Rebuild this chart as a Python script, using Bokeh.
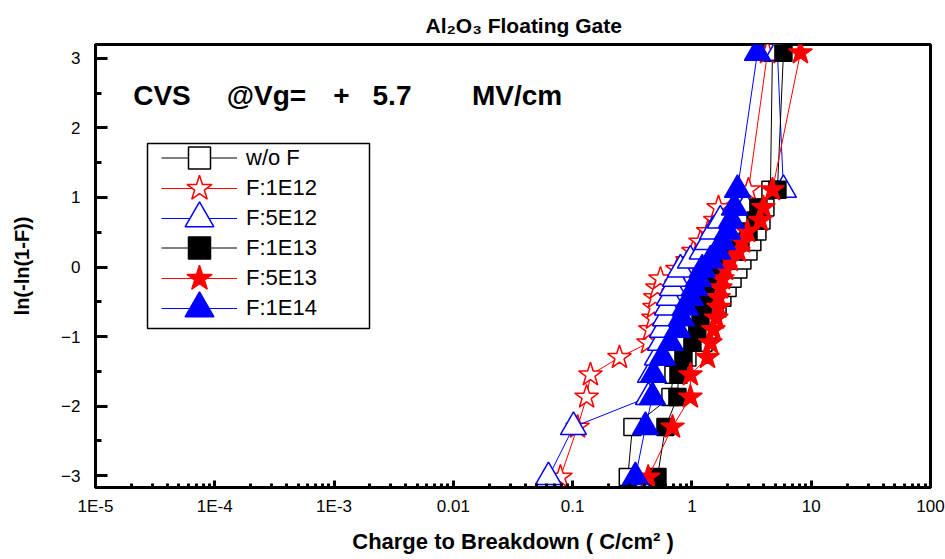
from bokeh.plotting import figure
from bokeh.models import (FixedTicker, CustomJSTickFormatter, Legend, LegendItem,
                          Label, BoxAnnotation, ColumnDataSource)
from bokeh.embed import file_html
from bokeh.resources import INLINE

FONT = "Liberation Sans"

# Weibull levels ln(-ln(1-F)) shared by all samples
weibull_y = [-3.02, -2.30, -1.87, -1.55, -1.30, -1.09, -0.90, -0.735, -0.58, -0.44,
             -0.30, -0.17, -0.035, 0.094, 0.225, 0.36, 0.51, 0.67, 0.855, 1.11, 3.08]

# Charge to breakdown (C/cm^2) per sample
qbd_wo_f = [0.29, 0.317, 0.660, 0.700, 0.917, 1.25, 1.35, 1.49, 1.64, 1.80, 1.99,
            2.19, 2.45, 2.65, 2.98, 3.21, 3.54, 3.83, 4.13, 4.55, 4.73]
qbd_f_1e12 = [0.079, 0.110, 0.131, 0.141, 0.247, 0.432, 0.449, 0.476, 0.485, 0.494, 0.514,
              0.545, 0.756, 0.917, 1.03, 1.18, 1.37, 1.57, 1.67, 2.98, 4.30]
qbd_f_5e12 = [0.0627, 0.1016, 0.432, 0.449, 0.514, 0.545, 0.566, 0.600, 0.623, 0.648, 0.687,
              0.727, 0.801, 0.971, 1.22, 1.35, 1.49, 1.73, 2.81, 5.85, 5.21]
qbd_f_1e13 = [0.514, 0.600, 0.756, 0.771, 0.849, 1.01, 1.11, 1.18, 1.25, 1.32, 1.43,
              1.57, 1.73, 1.95, 2.23, 2.55, 2.98, 3.41, 3.61, 5.21, 5.85]
qbd_f_5e13 = [0.43, 0.687, 0.971, 0.971, 1.35, 1.43, 1.51, 1.60, 1.67, 1.67, 1.73,
              1.80, 1.91, 2.10, 2.45, 2.65, 2.92, 3.75, 3.97, 4.73, 8.12]
qbd_f_1e14 = [0.336, 0.408, 0.467, 0.476, 0.566, 0.660, 0.756, 0.817, 0.882, 0.971, 1.05,
              1.13, 1.22, 1.43, 1.64, 1.80, 1.99, 2.14, 2.27, 2.41, 3.54]

series_names = ["w/o F", "F:1E12", "F:5E12", "F:1E13", "F:5E13", "F:1E14"]
series_values = [qbd_wo_f, qbd_f_1e12, qbd_f_5e12, qbd_f_1e13, qbd_f_5e13, qbd_f_1e14]
series_colors = ["black", "#FF0000", "#0000FF", "black", "#FF0000", "#0000FF"]
series_markers = ["square", "star", "triangle", "square", "star", "triangle"]
series_filled = [False, False, False, True, True, True]
marker_sizes = {"square": 17, "star": 25, "triangle": 26}
legend_glyph_heights = {"square": 55, "star": 66, "triangle": 72}

x_ticks = [1e-5, 1e-4, 1e-3, 1e-2, 1e-1, 1, 10, 100]
x_tick_labels = ["1E-5", "1E-4", "1E-3", "0.01", "0.1", "1", "10", "100"]
x_minor = [k * d for d in x_ticks[:-1] for k in range(2, 10)]
y_ticks = [-3, -2, -1, 0, 1, 2, 3]
y_minor = [-2.5, -1.5, -0.5, 0.5, 1.5, 2.5]

p = figure(width=945, height=559, x_axis_type="log", x_range=(1e-5, 100),
           y_range=(-3.17, 3.2), output_backend="svg", toolbar_location=None,
           min_border_left=95, min_border_right=15, min_border_top=44, min_border_bottom=72)

p.background_fill_color = "white"
p.border_fill_color = "white"
p.grid.visible = False
p.outline_line_color = "black"
p.outline_line_width = 3

# title
p.title.text = "Al\u2082O\u2083   Floating Gate"
p.title.align = "left"
p.title.offset = 330
p.title.text_font = FONT
p.title.text_font_size = "21px"
p.title.text_font_style = "bold"
p.title.text_color = "black"
p.title.standoff = 16

# axes
p.xaxis.ticker = FixedTicker(ticks=x_ticks, minor_ticks=x_minor)
p.xaxis.formatter = CustomJSTickFormatter(args=dict(tvals=x_ticks, tlabels=x_tick_labels), code="""
for (let i = 0; i < tvals.length; i++) {
  if (Math.abs(Math.log10(tick) - Math.log10(tvals[i])) < 1e-6) { return tlabels[i]; }
}
return "";
""")
p.yaxis.ticker = FixedTicker(ticks=y_ticks, minor_ticks=y_minor)

for ax in (p.xaxis, p.yaxis):
    ax.axis_line_width = 3
    ax.major_tick_line_width = 3
    ax.minor_tick_line_width = 3
    ax.major_tick_out = 0
    ax.minor_tick_out = 0
    ax.major_label_text_font = FONT
    ax.axis_label_text_font = FONT
    ax.axis_label_text_font_style = "bold"
    ax.major_label_text_color = "black"
    ax.axis_label_text_color = "black"

p.xaxis.major_tick_in = 7
p.xaxis.minor_tick_in = 4
p.yaxis.major_tick_in = 12
p.yaxis.minor_tick_in = 6
p.xaxis.major_label_text_font_size = "17px"
p.yaxis.major_label_text_font_size = "17px"
p.xaxis.major_label_standoff = 9
p.yaxis.major_label_standoff = 15

p.xaxis.axis_label = "Charge to Breakdown ( C/cm\u00b2 )"
p.xaxis.axis_label_text_font_size = "22px"
p.xaxis.axis_label_standoff = 10
p.yaxis.axis_label = "ln(-ln(1-F))"
p.yaxis.axis_label_text_font_size = "20px"
p.yaxis.axis_label_standoff = 25

# data
items = []
for name, xs, color, marker, filled in zip(series_names, series_values, series_colors,
                                           series_markers, series_filled):
    src = ColumnDataSource(dict(x=xs, y=weibull_y))
    ln = p.line("x", "y", source=src, line_color=color, line_width=1)
    sc = p.scatter("x", "y", source=src, marker=marker, size=marker_sizes[marker],
                   line_color=color, fill_color=color if filled else "white", line_width=1.5)
    items.append((LegendItem(label=name, renderers=[ln, sc]), marker))

# legend: one row per Legend so the row pitch (30 px) and marker size can be set freely
frame_bottom_px = 487
first_row_center_px = 158
row_pitch = 30
for i, (item, marker) in enumerate(items):
    gh = legend_glyph_heights[marker]
    vy = frame_bottom_px - (first_row_center_px + row_pitch * i) - gh / 2
    lg = Legend(items=[item], location=(66, int(round(vy))), glyph_width=76, glyph_height=gh,
                label_height=gh, spacing=0, padding=0, margin=0, label_standoff=9,
                label_text_font=FONT, label_text_font_size="22px", label_text_color="black",
                border_line_alpha=0, background_fill_alpha=0)
    p.add_layout(lg, "center")

p.add_layout(BoxAnnotation(left=52, right=274, bottom=159, top=344,
                           left_units="screen", right_units="screen",
                           bottom_units="screen", top_units="screen",
                           fill_alpha=0, line_color="black", line_width=1.5, line_alpha=1))

# condition text (word centres placed as in the original's spaced lettering)
for txt, cx in [("CVS", 161.5), ("@Vg=", 266), ("+", 341), ("5.7", 391.5), ("MV/cm", 516.5)]:
    p.add_layout(Label(x=cx - 95, y=392, x_units="screen", y_units="screen", text=txt,
                       text_font=FONT, text_font_size="28px", text_font_style="bold",
                       text_color="black", text_baseline="alphabetic", text_align="center"))

open("out.html", "w").write(file_html(p, INLINE))
